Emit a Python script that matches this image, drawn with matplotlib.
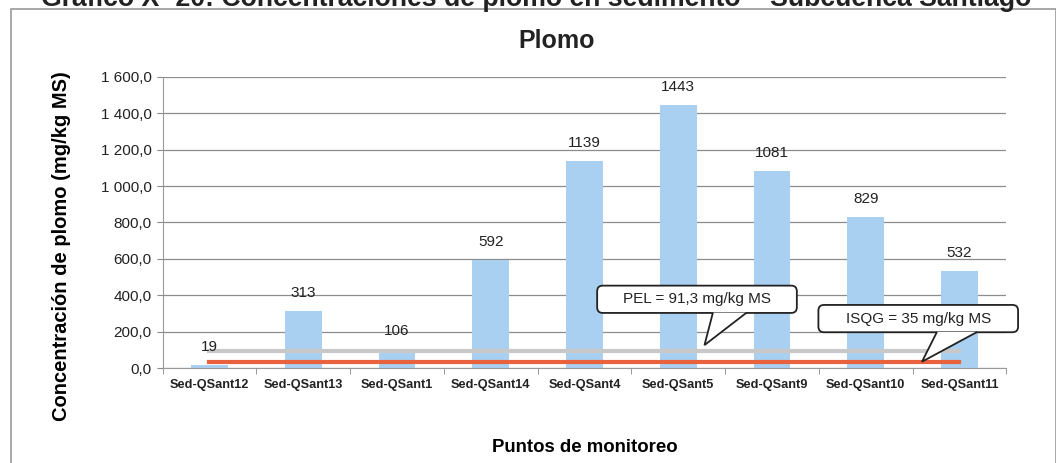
import numpy as np
import matplotlib.pyplot as plt
from matplotlib.ticker import FuncFormatter, MultipleLocator
from matplotlib.patches import Rectangle, FancyBboxPatch, Polygon

# data
puntos = ['Sed-QSant12', 'Sed-QSant13', 'Sed-QSant1', 'Sed-QSant14', 'Sed-QSant4',
          'Sed-QSant5', 'Sed-QSant9', 'Sed-QSant10', 'Sed-QSant11']
plomo = [19, 313, 106, 592, 1139, 1443, 1081, 829, 532]
pel = 91.3
isqg = 35

plt.rcParams['font.family'] = ['Liberation Sans', 'DejaVu Sans']

fig = plt.figure(figsize=(10.56, 4.63), dpi=100)
ax = fig.add_axes([0.154, 0.205, 0.799, 0.629])

x = np.arange(len(puntos))
ax.bar(x, plomo, width=0.39, color='#a9d0f0', zorder=2)

# guideline values drawn across the sampling points
ax.plot(x, [pel] * len(x), color='#c8c8c8', linewidth=3, zorder=3)
ax.plot(x, [isqg] * len(x), color='#e8633d', linewidth=3, zorder=3)

for xi, v in zip(x, plomo):
    ax.annotate(f'{v}', (xi, v), xytext=(0, 8), textcoords='offset points',
                ha='center', va='bottom', fontsize=11, color='#222222')

ax.set_xlim(-0.5, len(puntos) - 0.5)
ax.set_ylim(0, 1600)
ax.yaxis.set_major_locator(MultipleLocator(200))
ax.yaxis.set_major_formatter(FuncFormatter(
    lambda v, p: f'{v:,.1f}'.replace(',', ' ').replace('.', ',')))
ax.set_xticks(x)
ax.set_xticklabels(puntos, fontsize=9.2, fontweight='bold', color='#222222')
ax.set_xticks(np.arange(-0.5, len(puntos)), minor=True)
ax.tick_params(axis='x', which='major', length=0, pad=8)
ax.tick_params(axis='x', which='minor', length=4, color='#888888')
ax.tick_params(axis='y', labelsize=11, length=4, pad=4, color='#888888', labelcolor='#222222')

ax.grid(axis='y', color='#8c8c8c', linewidth=0.9, zorder=0)
ax.set_axisbelow(True)
for s in ['top', 'right']:
    ax.spines[s].set_visible(False)
ax.spines['left'].set_color('#999999')
ax.spines['bottom'].set_color('#999999')

fig.text(0.527, 0.912, 'Plomo', ha='center', va='center', fontsize=18, fontweight='bold',
         color='#222222')
ax.set_ylabel('Concentración de plomo (mg/kg MS)', fontsize=14.5, fontweight='bold')
ax.yaxis.set_label_coords(-0.108, 0.42)
ax.set_xlabel('Puntos de monitoreo', fontsize=13.4, fontweight='bold')
ax.xaxis.set_label_coords(0.5, -0.245)


def callout(text, cx, cy, base0, base1, tip):
    # rounded box with a pointer, sized in the axes' data units
    w, h = 2.13, 150
    box = FancyBboxPatch((cx - w / 2, cy - h / 2), w, h,
                         boxstyle='round,pad=0,rounding_size=0.06', mutation_aspect=515,
                         fc='white', ec='#222222', lw=1.3, zorder=5, clip_on=False)
    ax.add_patch(box)
    by = cy - h / 2
    ax.add_patch(Polygon([(base0, by + 2), tip, (base1, by + 2)], closed=False,
                         fc='white', ec='#222222', lw=1.3, zorder=6, clip_on=False))
    ax.text(cx, cy, text, ha='center', va='center', fontsize=11, color='#222222', zorder=7)


callout(f'PEL = {pel:.1f}'.replace('.', ',') + ' mg/kg MS', 5.2, 378, 5.37, 5.73, (5.28, pel + 35))
callout(f'ISQG = {isqg} mg/kg MS', 7.56, 272, 7.76, 8.19, (7.6, isqg))

# frame of the chart area and the cut-off heading of the page
fig.patches.append(Rectangle((0.01, -0.05), 0.99, 1.0295, transform=fig.transFigure,
                             fill=False, ec='#9a9a9a', lw=1.2))
fig.text(0.508, 0.986, 'Gráfico X- 20: Concentraciones de plomo en sedimento – Subcuenca Santiago',
         ha='center', va='baseline', fontsize=19.2, fontweight='bold', color='#222222')

fig.savefig('out.png', dpi=100)
